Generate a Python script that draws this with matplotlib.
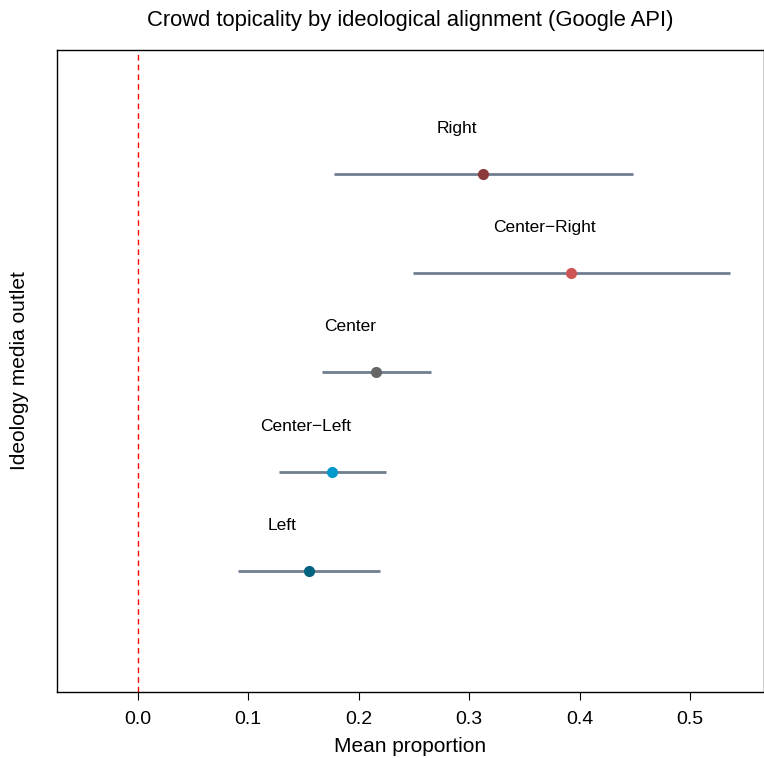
import matplotlib
matplotlib.use("Agg")
import matplotlib.pyplot as plt

plt.rcParams['font.family'] = ['Liberation Sans', 'DejaVu Sans']

# Mean proportion with interval per ideology group (bottom to top)
groups = ["Left", "Center-Left", "Center", "Center-Right", "Right"]
means = [0.155, 0.176, 0.216, 0.392, 0.313]
lower = [0.091, 0.128, 0.167, 0.249, 0.178]
upper = [0.219, 0.225, 0.266, 0.536, 0.448]
colors = ["#00627f", "#0099cc", "#666666", "#cd5555", "#8b3a3a"]

fig = plt.figure(figsize=(7.64, 7.58), dpi=100)
ax = fig.add_axes([0.0746, 0.0871, 0.9254, 0.8469])

ypos = list(range(1, len(groups) + 1))
for y, m, lo, hi, c, name in zip(ypos, means, lower, upper, colors, groups):
    ax.plot([lo, hi], [y, y], color="#6f7d8f", linewidth=2, solid_capstyle="butt", zorder=2)
    ax.plot(m, y, "o", color=c, markersize=7, zorder=3)
    ax.text(m - 0.024, y + 0.46, name.replace("-", "\u2212"), ha="center", va="center", fontsize=12.5)

ax.axvline(0, color="red", linestyle=(0, (4, 3)), linewidth=1, zorder=1)

ax.set_xlim(-0.073, 0.567)
ax.set_ylim(-0.22, 6.25)
ax.set_yticks([])
ax.set_xticks([0.0, 0.1, 0.2, 0.3, 0.4, 0.5])
ax.set_xticklabels(["0.0", "0.1", "0.2", "0.3", "0.4", "0.5"])
ax.tick_params(axis="x", direction="out", length=6, labelsize=14, pad=8)
for s in ax.spines.values():
    s.set_linewidth(1)

ax.set_xlabel("Mean proportion", fontsize=15, labelpad=6)
ax.set_ylabel("Ideology media outlet", fontsize=15, labelpad=20)
ax.set_title("Crowd topicality by ideological alignment (Google API)", fontsize=15.8, pad=17)

fig.savefig("out.png", dpi=100)
